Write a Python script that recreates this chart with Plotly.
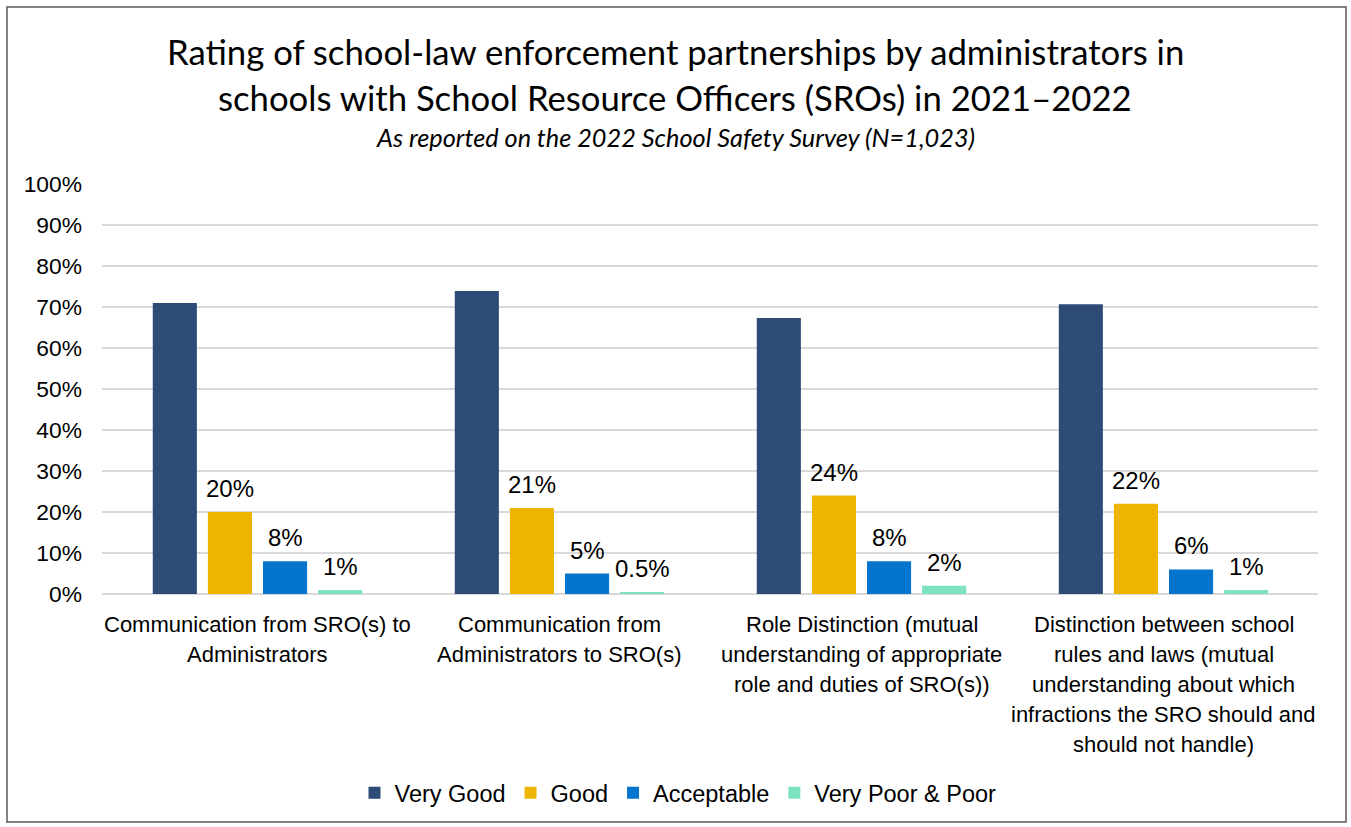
import plotly.graph_objects as go

# Survey categories (each label split into its display lines)
category_lines = [
    ["Communication from SRO(s) to", "Administrators"],
    ["Communication from", "Administrators to SRO(s)"],
    ["Role Distinction (mutual", "understanding of appropriate", "role and duties of SRO(s))"],
    ["Distinction between school", "rules and laws (mutual", "understanding about which",
     "infractions the SRO should and", "should not handle)"],
]
categories = [" ".join(lines) for lines in category_lines]

# Percent of administrators giving each rating
very_good = [71.0, 73.9, 67.3, 70.7]
good = [20, 21, 24, 22]
acceptable = [8, 5, 8, 6]
very_poor_poor = [1, 0.5, 2, 1]

series_names = ["Very Good", "Good", "Acceptable", "Very Poor & Poor"]
series_values = [very_good, good, acceptable, very_poor_poor]
series_colors = ["#2E4A76", "#EDB500", "#0474CC", "#7DE3BE"]
series_labelled = [False, True, True, True]

y_ticks = list(range(0, 101, 10))

FONT = "Liberation Sans, Arial, sans-serif"
TITLE_FONT = "Lato, Open Sans, sans-serif"

W, H = 1351, 827
L, R, T, B = 102, 33, 184, 233
pw, ph = W - L - R, H - T - B
BARGAP, BARGROUPGAP = 0.27, 0.2


def px_x(x):
    return (x - L) / pw


def px_y(y):
    return (H - B - y) / ph


fig = go.Figure()
for name, vals, color in zip(series_names, series_values, series_colors):
    fig.add_trace(go.Bar(
        name=name,
        x=categories,
        y=vals,
        marker=dict(color=color, line=dict(width=0)),
        hovertemplate="%{y}%<extra>" + name + "</extra>",
    ))

annotations = [
    dict(text="Rating of school-law enforcement partnerships by administrators in",
         x=px_x(675), y=px_y(52), xref="paper", yref="paper", showarrow=False,
         xanchor="center", yanchor="middle",
         font=dict(family=TITLE_FONT, size=34.7, color="#000000")),
    dict(text="schools with School Resource Officers (SROs) in 2021\u20132022",
         x=px_x(675), y=px_y(97), xref="paper", yref="paper", showarrow=False,
         xanchor="center", yanchor="middle",
         font=dict(family=TITLE_FONT, size=34.7, color="#000000")),
    dict(text="<i>As reported on the 2022 School Safety Survey (N=1,023)</i>",
         x=px_x(675), y=px_y(137), xref="paper", yref="paper", showarrow=False,
         xanchor="center", yanchor="middle",
         font=dict(family=TITLE_FONT, size=25.3, color="#000000")),
]

# Value labels above the bars, placed at each bar's slot within its group
n_series = len(series_names)
slot = (1 - BARGAP) / n_series
for k, (vals, labelled) in enumerate(zip(series_values, series_labelled)):
    if not labelled:
        continue
    offset = -(1 - BARGAP) / 2 + slot * (k + 0.5)
    for i, v in enumerate(vals):
        annotations.append(dict(
            text=f"{v:g}%", x=i + offset, xref="x", y=v, yref="y",
            yanchor="bottom", xanchor="center", yshift=8, showarrow=False,
            font=dict(family=FONT, size=24, color="#000000"),
        ))

# Category labels, one line each for even line spacing
for cat, lines in zip(categories, category_lines):
    for i, line in enumerate(lines):
        annotations.append(dict(
            text=line, x=cat, xref="x", y=0, yref="paper",
            yshift=-30 - 30 * i, showarrow=False,
            xanchor="center", yanchor="middle",
            font=dict(family=FONT, size=22, color="#000000"),
        ))

fig.update_layout(
    width=W, height=H,
    margin=dict(l=L, r=R, t=T, b=B, pad=0, autoexpand=False),
    paper_bgcolor="#FFFFFF",
    plot_bgcolor="#FFFFFF",
    barmode="group",
    bargap=BARGAP,
    bargroupgap=BARGROUPGAP,
    showlegend=True,
    legend=dict(
        orientation="h",
        x=px_x(678), xanchor="center",
        y=px_y(793), yanchor="middle",
        font=dict(family=FONT, size=23.5, color="#000000"),
        itemwidth=30,
        traceorder="normal",
    ),
    annotations=annotations,
    shapes=[dict(
        type="rect", xref="paper", yref="paper",
        x0=px_x(7), x1=px_x(1346), y0=px_y(822), y1=px_y(7),
        line=dict(color="#595959", width=1.5), fillcolor="rgba(0,0,0,0)",
        layer="below",
    )],
)

fig.update_xaxes(
    showticklabels=False, showgrid=False, zeroline=False,
    showline=False, ticks="", automargin=False,
)
fig.update_yaxes(
    range=[0, 100],
    tickvals=y_ticks,
    ticktext=[f"{v}%" for v in y_ticks],
    tickfont=dict(family=FONT, size=22.8, color="#000000"),
    showgrid=True, gridcolor="#D9D9D9", gridwidth=2,
    zeroline=True, zerolinecolor="#D9D9D9", zerolinewidth=2,
    showline=False, ticks="", ticklabelstandoff=19, automargin=False,
)

fig.write_html("out.html")
